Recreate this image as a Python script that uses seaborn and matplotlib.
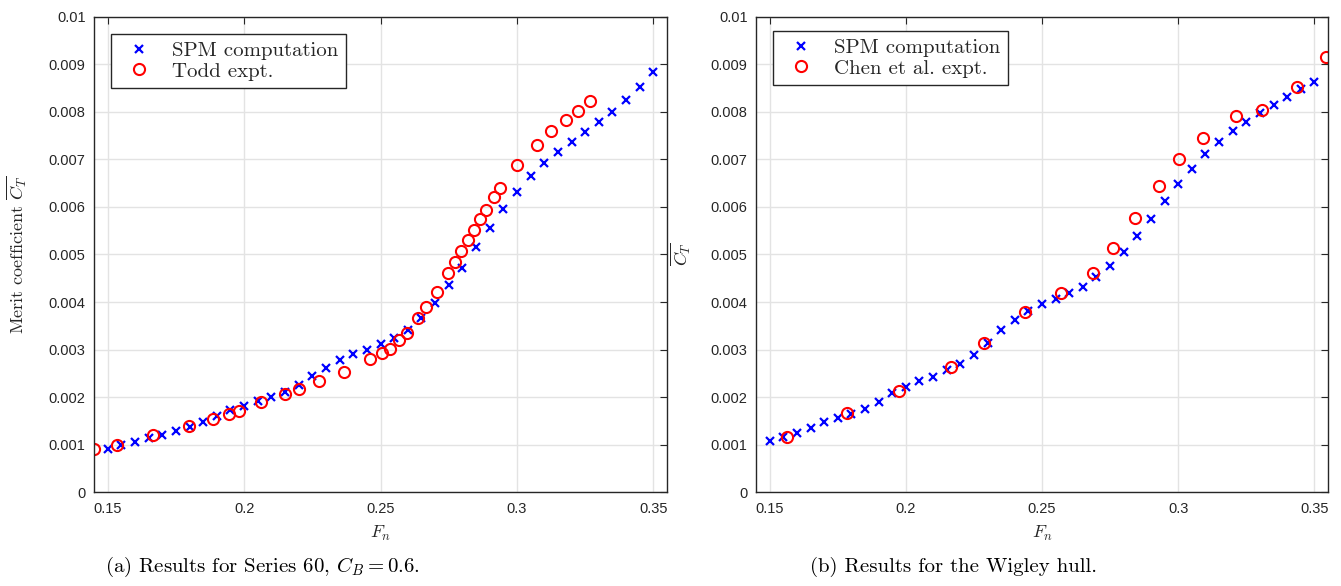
import matplotlib
matplotlib.use('Agg')
import matplotlib.pyplot as plt
from matplotlib.ticker import FuncFormatter, MultipleLocator
import pandas as pd
import seaborn as sns

# Series 60, CB = 0.6 -- SPM computation
s60_fn = [0.150, 0.155, 0.160, 0.165, 0.170, 0.175, 0.180, 0.185, 0.190, 0.195,
          0.200, 0.205, 0.210, 0.215, 0.220, 0.225, 0.230, 0.235, 0.240, 0.245,
          0.250, 0.255, 0.260, 0.265, 0.270, 0.275, 0.280, 0.285, 0.290, 0.295,
          0.300, 0.305, 0.310, 0.315, 0.320, 0.325, 0.330, 0.335, 0.340, 0.345, 0.350]
s60_ct = [0.00091, 0.00098, 0.00105, 0.00114, 0.00121, 0.00128, 0.00137, 0.00147, 0.00159, 0.00172,
          0.00182, 0.00192, 0.00201, 0.00210, 0.00226, 0.00244, 0.00262, 0.00277, 0.00290, 0.00300,
          0.00311, 0.00324, 0.00341, 0.00366, 0.00397, 0.00435, 0.00472, 0.00515, 0.00556, 0.00596,
          0.00632, 0.00666, 0.00692, 0.00715, 0.00737, 0.00758, 0.00778, 0.00801, 0.00825, 0.00852, 0.00884]

# Todd experiment
todd_fn = [0.1451, 0.1533, 0.1667, 0.1799, 0.1887, 0.1944, 0.1980, 0.2061, 0.2151, 0.2203,
           0.2276, 0.2365, 0.2460, 0.2504, 0.2534, 0.2567, 0.2596, 0.2639, 0.2668, 0.2706,
           0.2748, 0.2773, 0.2795, 0.2821, 0.2843, 0.2866, 0.2885, 0.2915, 0.2938, 0.3002,
           0.3075, 0.3125, 0.3180, 0.3224, 0.3266]
todd_ct = [0.00090, 0.00100, 0.00119, 0.00139, 0.00154, 0.00165, 0.00171, 0.00189, 0.00206, 0.00217,
           0.00233, 0.00253, 0.00279, 0.00292, 0.00302, 0.00319, 0.00334, 0.00366, 0.00390, 0.00422,
           0.00462, 0.00484, 0.00507, 0.00530, 0.00552, 0.00575, 0.00593, 0.00622, 0.00641, 0.00688,
           0.00731, 0.00759, 0.00783, 0.00803, 0.00824]

# Wigley hull -- SPM computation
wig_fn = [0.150, 0.155, 0.160, 0.165, 0.170, 0.175, 0.180, 0.185, 0.190, 0.195,
          0.200, 0.205, 0.210, 0.215, 0.220, 0.225, 0.230, 0.235, 0.240, 0.245,
          0.250, 0.255, 0.260, 0.265, 0.270, 0.275, 0.280, 0.285, 0.290, 0.295,
          0.300, 0.305, 0.310, 0.315, 0.320, 0.325, 0.330, 0.335, 0.340, 0.345, 0.350]
wig_ct = [0.00107, 0.00115, 0.00124, 0.00135, 0.00147, 0.00155, 0.00164, 0.00175, 0.00189, 0.00208,
          0.00222, 0.00234, 0.00243, 0.00256, 0.00269, 0.00289, 0.00314, 0.00341, 0.00363, 0.00381,
          0.00395, 0.00406, 0.00418, 0.00432, 0.00452, 0.00476, 0.00505, 0.00539, 0.00575, 0.00612,
          0.00648, 0.00681, 0.00712, 0.00737, 0.00760, 0.00779, 0.00797, 0.00815, 0.00831, 0.00848, 0.00864]

# Chen et al. experiment
chen_fn = [0.1564, 0.1783, 0.1975, 0.2164, 0.2287, 0.2436, 0.2571, 0.2688, 0.2761,
           0.2840, 0.2928, 0.3002, 0.3092, 0.3212, 0.3309, 0.3435, 0.3544]
chen_ct = [0.00116, 0.00166, 0.00213, 0.00263, 0.00313, 0.00380, 0.00420, 0.00461, 0.00514,
           0.00577, 0.00645, 0.00700, 0.00745, 0.00792, 0.00805, 0.00853, 0.00916]

sns.set_theme(style='whitegrid')
plt.rcParams.update({
    'font.family': ['cmr10', 'DejaVu Serif'],
    'mathtext.fontset': 'cm',
    'axes.formatter.use_mathtext': True,
    'axes.unicode_minus': False,
})

TICK_FONT = 'Liberation Sans'
DARK = '#262626'


def draw_panel(ax, sim_x, sim_y, exp_x, exp_y, exp_label, ylabel, ylab_x, leg_top):
    sim = pd.DataFrame({'Fn': sim_x, 'CT': sim_y})
    exp = pd.DataFrame({'Fn': exp_x, 'CT': exp_y})
    sns.lineplot(data=sim, x='Fn', y='CT', ax=ax, estimator=None, sort=False,
                 linestyle='', marker='x', color='blue', markersize=5.5,
                 markeredgecolor='blue', markeredgewidth=1.6,
                 label='SPM computation')
    sns.lineplot(data=exp, x='Fn', y='CT', ax=ax, estimator=None, sort=False,
                 linestyle='', marker='o', color='red', markerfacecolor='none',
                 markeredgecolor='red', markersize=8, markeredgewidth=1.5,
                 label=exp_label)

    ax.set_xlim(0.145, 0.355)
    ax.set_ylim(0, 0.01)
    ax.xaxis.set_major_locator(MultipleLocator(0.05))
    ax.yaxis.set_major_locator(MultipleLocator(0.001))
    fmt = FuncFormatter(lambda v, p: f'{v:g}' if abs(v) > 1e-12 else '0')
    ax.xaxis.set_major_formatter(fmt)
    ax.yaxis.set_major_formatter(fmt)
    for lab in ax.get_xticklabels() + ax.get_yticklabels():
        lab.set_fontfamily(TICK_FONT)
    ax.tick_params(direction='in', length=5, width=0.8, top=True, right=True,
                   labelsize=10.5, colors=DARK, pad=6)
    ax.tick_params(axis='x', pad=7)

    ax.grid(True, color='#e3e3e3', linewidth=1.0)
    ax.set_facecolor('white')
    for sp in ax.spines.values():
        sp.set_visible(True)
        sp.set_color(DARK)
        sp.set_linewidth(1.0)

    ax.set_xlabel('$F_n$', fontsize=13, color=DARK)
    ax.set_ylabel(ylabel, fontsize=13, color=DARK)
    ax.xaxis.set_label_coords(0.5, -0.067)
    ax.yaxis.set_label_coords(ylab_x, 0.5)

    leg = ax.legend(loc='upper left', bbox_to_anchor=(0.029, leg_top),
                    borderaxespad=0, fontsize=15, frameon=True, fancybox=False,
                    framealpha=1, edgecolor=DARK, handlelength=2.0,
                    handletextpad=0.6, borderpad=0.35, labelspacing=0.1)
    leg.get_frame().set_linewidth(1.0)


fig = plt.figure(figsize=(13.41, 5.86), dpi=100)
ax1 = fig.add_axes([0.0701, 0.1604, 0.4273, 0.8106])
ax2 = fig.add_axes([0.5638, 0.1604, 0.4265, 0.8106])

draw_panel(ax1, s60_fn, s60_ct, todd_fn, todd_ct, 'Todd expt.',
           r'Merit coefficient $\overline{C_T}$', -0.115, 0.964)
draw_panel(ax2, wig_fn, wig_ct, chen_fn, chen_ct, 'Chen et al. expt.',
           r'$\overline{C_T}$', -0.112, 0.970)

fig.text(0.1954, 0.032, r'(a) Results for Series 60, $C_B = 0.6$.',
         ha='center', va='center', fontsize=15, color='black')
fig.text(0.7114, 0.032, '(b) Results for the Wigley hull.',
         ha='center', va='center', fontsize=15, color='black')

fig.savefig('out.png', dpi=100)
